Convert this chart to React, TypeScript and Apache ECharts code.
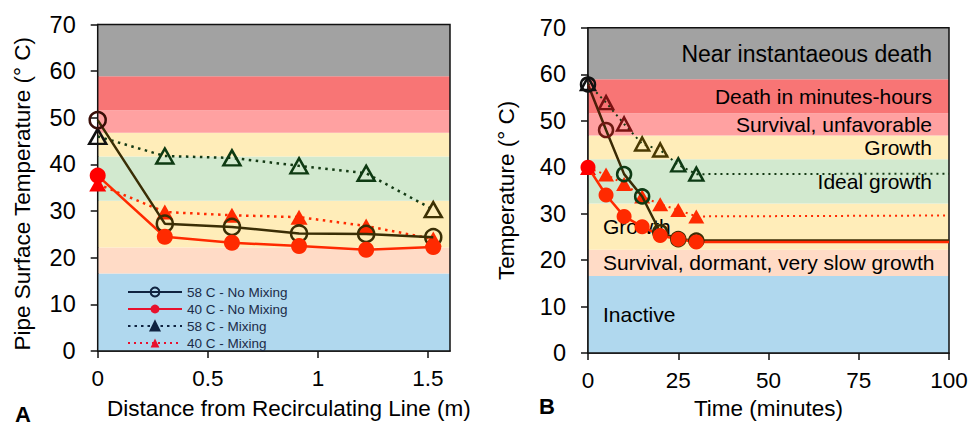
import React, { useEffect, useRef } from 'react';
import * as echarts from 'echarts';

const FONT = '"Liberation Sans", Arial, Helvetica, sans-serif';

// ---- Panel A data (distance in m, temperature in °C)
const distance = [0, 0.3048, 0.6096, 0.9144, 1.2192, 1.524];
const a58NoMix = [49.5, 27.3, 26.6, 25.2, 25.1, 24.4];
const a40NoMix = [37.6, 24.5, 23.2, 22.5, 21.7, 22.3];
const a58Mix = [46.0, 41.8, 41.4, 39.7, 38.1, 30.3];
const a40Mix = [35.8, 29.8, 29.1, 28.7, 26.8, 24.0];

// ---- Panel B data (time in minutes, temperature in °C)
const minutes = [0, 5, 10, 15, 20, 25, 30, 100];
const b58NoMix = [57.8, 48.0, 38.5, 33.7, 26.0, 24.5, 24.2, 24.2];
const b40NoMix = [40.0, 34.0, 29.4, 27.2, 25.3, 24.5, 23.9, 23.9];
const b58Mix = [58.0, 53.9, 49.3, 45.0, 43.7, 40.5, 38.5, 38.6];
const b40Mix = [39.8, 38.4, 36.4, 33.7, 32.0, 30.8, 29.4, 29.6];
const markedPoints = 7; // last entry is the plateau end without marker

// ---- Bands
const bandEdges = [0, 16.6, 22.2, 32.2, 41.7, 46.8, 51.6, 58.9, 70];
const bandLabels = [
  'Inactive',
  'Survival, dormant, very slow growth',
  'Growth',
  'Ideal growth',
  'Growth',
  'Survival, unfavorable',
  'Death in minutes-hours',
  'Near instantaeous death',
];
const legendNames = ['58 C - No Mixing', '40 C - No Mixing', '58 C - Mixing', '40 C - Mixing'];

// ---- Styles
const bandColors = ['#B0D8EE', '#FFDBC6', '#FFEDB9', '#D2E9CF', '#FFEDB9', '#FFA1A1', '#F87575', '#A2A2A2'];
const bandLabelSide = ['left', 'left', 'left', 'right', 'right', 'right', 'right', 'right'];
const a58NoMixColors = ['#3A0E08', '#3A2E05', '#3A2E05', '#3A2E05', '#3A2E05', '#3A2E05'];
const a58MixColors = ['#111111', '#0E3A12', '#0E3A12', '#0E3A12', '#0E3A12', '#3D3003'];
const b58NoMixColors = ['#111111', '#6E1A12', '#0D3A14', '#0D3A14', '#3A2E05', '#3A2E05', '#3A2E05'];
const b58MixColors = ['#111111', '#7A1212', '#7A1212', '#4A3A02', '#4A3A02', '#0D3A14', '#0D3A14'];
const RED = '#FF2A00';
const OLIVE = '#3A2E05';
const DKGREEN = '#143A14';

function pts(xs: number[], ys: number[], colors: string[] | null, filled: boolean, limit?: number) {
  return xs.map((x, i) => {
    const item: any = { value: [x, ys[i]] };
    if (limit !== undefined && i >= limit) {
      item.symbol = 'none';
    } else if (colors) {
      item.itemStyle = filled ? { color: colors[i] } : { borderColor: colors[i] };
    }
    return item;
  });
}

function bandArea(withLabels: boolean) {
  const data: any[] = bandColors.map((c, i) => {
    const start: any = { yAxis: bandEdges[i], itemStyle: { color: c } };
    if (withLabels) {
      const left = bandLabelSide[i] === 'left';
      start.name = bandLabels[i];
      start.label = {
        show: true,
        position: left ? 'insideLeft' : 'insideRight',
        distance: left ? 15 : 17,
        fontSize: i === 7 ? 23 : 21,
        color: '#000',
        fontFamily: FONT,
      };
    }
    return [start, { yAxis: bandEdges[i + 1] }];
  });
  data.push([
    { yAxis: 0, itemStyle: { color: 'rgba(0,0,0,0)', borderColor: '#111', borderWidth: 1.5 } },
    { yAxis: 70 },
  ]);
  return {
    silent: true,
    label: { show: false },
    data,
  };
}

export default function App() {
  const ref = useRef<HTMLDivElement>(null);

  useEffect(() => {
    if (!ref.current) return;
    const chart = echarts.init(ref.current, undefined, { renderer: 'svg' });

    const axisLabel = { fontSize: 22.5, color: '#000', fontFamily: FONT };
    const yAxisLabel = { fontSize: 23.5, color: '#000', fontFamily: FONT, margin: 22 };
    const nameStyle = { fontSize: 22.5, color: '#000', fontFamily: FONT };
    const axisLine = { show: true, lineStyle: { color: '#111', width: 1.5 } };
    const axisTick = { show: true, inside: false, length: 7, lineStyle: { color: '#111', width: 1.5 } };

    const option: any = {
      animation: false,
      backgroundColor: '#fff',
      textStyle: { fontFamily: FONT },
      grid: [
        { left: 97.7, top: 24.5, width: 352.3, height: 331.8 },
        { left: 588, top: 27.8, width: 361, height: 328.7 },
      ],
      xAxis: [
        {
          gridIndex: 0, type: 'value', min: 0, max: 1.6, interval: 0.5,
          name: 'Distance from Recirculating Line (m)', nameLocation: 'middle', nameGap: 46,
          nameTextStyle: { ...nameStyle, padding: [0, 0, 0, 30] },
          axisLine, axisTick, splitLine: { show: false },
          axisLabel: { ...axisLabel, margin: 16, showMaxLabel: false },
        },
        {
          gridIndex: 1, type: 'value', min: 0, max: 100, interval: 25,
          name: 'Time (minutes)', nameLocation: 'middle', nameGap: 44,
          nameTextStyle: nameStyle,
          axisLine, axisTick, splitLine: { show: false },
          axisLabel: { ...axisLabel, margin: 16 },
        },
      ],
      yAxis: [
        {
          gridIndex: 0, type: 'value', min: 0, max: 70, interval: 10,
          name: 'Pipe Surface Temperature (° C)', nameLocation: 'middle', nameGap: 64,
          nameTextStyle: { ...nameStyle, padding: [0, 12, 0, 0] },
          axisLine, axisTick, splitLine: { show: false },
          axisLabel: yAxisLabel,
        },
        {
          gridIndex: 1, type: 'value', min: 0, max: 70, interval: 10,
          name: 'Temperature (° C)', nameLocation: 'middle', nameGap: 70,
          nameTextStyle: nameStyle,
          axisLine, axisTick, splitLine: { show: false },
          axisLabel: yAxisLabel,
        },
      ],
      legend: {
        orient: 'vertical',
        left: 122,
        top: 280,
        itemWidth: 54,
        itemHeight: 11,
        itemGap: 3,
        selectedMode: false,
        data: legendNames,
        textStyle: { fontSize: 13.5, color: '#1B2B48', fontFamily: FONT },
      },
      graphic: [
        { type: 'text', left: 15, top: 403, style: { text: 'A', fontSize: 22, fontWeight: 'bold', fill: '#000', fontFamily: FONT } },
        { type: 'text', left: 539, top: 395, style: { text: 'B', fontSize: 22, fontWeight: 'bold', fill: '#000', fontFamily: FONT } },
      ],
      series: [
        // bands
        { type: 'line', xAxisIndex: 0, yAxisIndex: 0, data: [], z: 1, markArea: bandArea(false) },
        { type: 'line', xAxisIndex: 1, yAxisIndex: 1, data: [], z: 1, markArea: bandArea(true) },
        // legend-only series
        {
          name: legendNames[0], type: 'line', data: [], symbol: 'circle', symbolSize: 10,
          itemStyle: { color: 'rgba(0,0,0,0)', borderColor: '#0F2340', borderWidth: 2 },
          lineStyle: { color: '#0F2340', width: 2.5 },
        },
        {
          name: legendNames[1], type: 'line', data: [], symbol: 'circle', symbolSize: 10,
          itemStyle: { color: '#E8112D' },
          lineStyle: { color: '#E8112D', width: 2.5 },
        },
        {
          name: legendNames[2], type: 'line', data: [], symbol: 'triangle', symbolSize: 11,
          itemStyle: { color: '#0F2340', borderColor: '#0F2340', borderWidth: 2 },
          lineStyle: { color: '#0F2340', width: 2.5, type: [2.5, 4] },
        },
        {
          name: legendNames[3], type: 'line', data: [], symbol: 'triangle', symbolSize: 11,
          itemStyle: { color: '#E8112D' },
          lineStyle: { color: '#E8112D', width: 2, type: [2, 4] },
        },
        // Panel A
        {
          name: 'A-58-mix', type: 'line', xAxisIndex: 0, yAxisIndex: 0, z: 4,
          data: pts(distance, a58Mix, a58MixColors, false),
          symbol: 'triangle', symbolSize: [17, 15],
          itemStyle: { color: 'rgba(0,0,0,0)', borderColor: DKGREEN, borderWidth: 2.5 },
          lineStyle: { color: DKGREEN, width: 2.5, type: [2.5, 4.5] },
        },
        {
          name: 'A-40-mix', type: 'line', xAxisIndex: 0, yAxisIndex: 0, z: 4,
          data: pts(distance, a40Mix, ['#FF0000', RED, RED, RED, RED, RED], true),
          symbol: 'triangle', symbolSize: [17, 15],
          itemStyle: { color: RED },
          lineStyle: { color: RED, width: 2.5, type: [2.5, 4.5] },
        },
        {
          name: 'A-58-nomix', type: 'line', xAxisIndex: 0, yAxisIndex: 0, z: 5,
          data: pts(distance, a58NoMix, a58NoMixColors, false),
          symbol: 'circle', symbolSize: 16,
          itemStyle: { color: 'rgba(0,0,0,0)', borderColor: OLIVE, borderWidth: 2.5 },
          lineStyle: { color: OLIVE, width: 2.5 },
        },
        {
          name: 'A-40-nomix', type: 'line', xAxisIndex: 0, yAxisIndex: 0, z: 5,
          data: pts(distance, a40NoMix, ['#FF0000', RED, RED, RED, RED, RED], true),
          symbol: 'circle', symbolSize: 16,
          itemStyle: { color: RED },
          lineStyle: { color: RED, width: 2.5 },
        },
        // Panel B
        {
          name: 'B-58-mix', type: 'line', xAxisIndex: 1, yAxisIndex: 1, z: 4,
          data: pts(minutes, b58Mix, b58MixColors, false, markedPoints),
          symbol: 'triangle', symbolSize: [14, 13],
          itemStyle: { color: 'rgba(0,0,0,0)', borderColor: DKGREEN, borderWidth: 2.5 },
          lineStyle: { color: DKGREEN, width: 2, type: [2, 4] },
        },
        {
          name: 'B-40-mix', type: 'line', xAxisIndex: 1, yAxisIndex: 1, z: 4,
          data: pts(minutes, b40Mix, ['#FF0000', RED, RED, RED, RED, RED, RED], true, markedPoints),
          symbol: 'triangle', symbolSize: [16, 14],
          itemStyle: { color: RED },
          lineStyle: { color: RED, width: 2, type: [2, 4] },
        },
        {
          name: 'B-58-nomix', type: 'line', xAxisIndex: 1, yAxisIndex: 1, z: 5,
          data: pts(minutes, b58NoMix, b58NoMixColors, false, markedPoints),
          symbol: 'circle', symbolSize: 14,
          itemStyle: { color: 'rgba(0,0,0,0)', borderColor: OLIVE, borderWidth: 2.5 },
          lineStyle: {
            width: 2.5,
            color: {
              type: 'linear', x: 0, y: 0, x2: 0, y2: 1,
              colorStops: [
                { offset: 0, color: '#5A140C' },
                { offset: 0.3, color: '#3A2A05' },
                { offset: 1, color: OLIVE },
              ],
            },
          },
        },
        {
          name: 'B-40-nomix', type: 'line', xAxisIndex: 1, yAxisIndex: 1, z: 5,
          data: pts(minutes, b40NoMix, ['#FF0000', RED, RED, RED, RED, RED, RED], true, markedPoints),
          symbol: 'circle', symbolSize: 15,
          itemStyle: { color: RED },
          lineStyle: { color: RED, width: 2.5 },
        },
      ],
    };

    chart.setOption(option);
    return () => chart.dispose();
  }, []);

  return (
    <div
      ref={ref}
      style={{ position: 'fixed', left: 0, top: 0, width: 971, height: 425, background: '#fff' }}
    />
  );
}
